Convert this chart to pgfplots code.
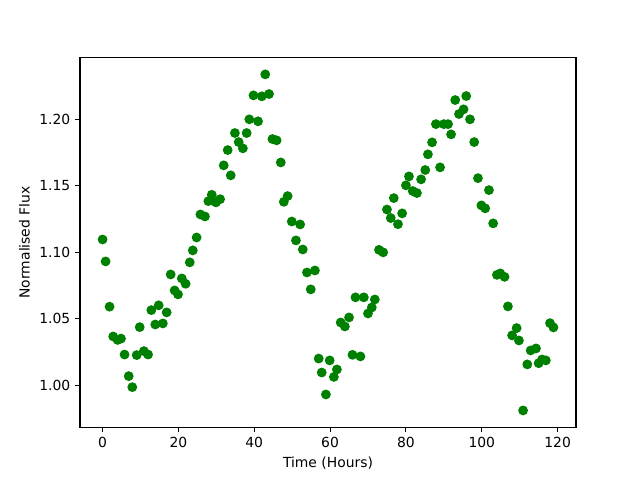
\documentclass[border=0pt]{standalone}
\usepackage{pgfplots}
\pgfplotsset{compat=1.18}
\usepackage{fontspec}
\setmainfont{DejaVu Sans}
\definecolor{mplgreen}{HTML}{008000}
\begin{document}
\begin{tikzpicture}
\useasboundingbox (-57.6pt,-38.016pt) rectangle (403.2pt,307.584pt);
\begin{axis}[
  at={(0,0)}, anchor=south west,
  scale only axis, width=357.12pt, height=266.112pt,
  xmin=-5.95, xmax=124.85, ymin=0.9684, ymax=1.2462,
  xtick={0,20,40,60,80,100,120},
  ytick={1.00,1.05,1.10,1.15,1.20},
  yticklabel style={/pgf/number format/.cd, fixed, fixed zerofill, precision=2},
  /pgf/number format/assume math mode=true,
  tick align=outside, tick pos=left,
  major tick length=3.5pt,
  tick style={black, line width=0.8pt},
  axis line style={line width=0.8pt},
  ticklabel style={font=\fontsize{10}{12}\selectfont},
  label style={font=\fontsize{10}{12}\selectfont},
  xlabel={Time (Hours)}, ylabel={Normalised Flux},
]
\addplot[only marks, mark=*, mark size=3pt, color=mplgreen, mark options={draw=mplgreen, fill=mplgreen, line width=1pt}] coordinates {
(0.0,1.1095) (0.8,1.093) (1.85,1.059) (2.8,1.0366) (3.96,1.034) (4.86,1.035)
(5.8,1.023) (6.9,1.0068) (7.84,0.9985) (9.0,1.0226) (9.8,1.0436) (10.9,1.0256)
(12.0,1.023) (12.86,1.0564) (13.9,1.0456) (14.8,1.060) (15.9,1.0464) (16.9,1.0547)
(17.96,1.0832) (19.0,1.0712) (19.9,1.0682) (20.9,1.0802) (21.9,1.0762) (23.0,1.0923)
(23.8,1.1013) (24.8,1.111) (25.8,1.1283) (27.0,1.1268) (27.9,1.1383) (28.8,1.1431)
(29.9,1.1374) (31.0,1.1398) (31.95,1.1652) (33.0,1.1767) (33.8,1.1577) (34.9,1.1895)
(35.9,1.1827) (37.0,1.178) (38.0,1.1895) (38.7,1.1998) (39.8,1.2178) (41.0,1.1983)
(42.0,1.2171) (42.9,1.2336) (43.9,1.2188) (44.8,1.185) (45.9,1.184) (47.0,1.1674)
(47.8,1.1378) (48.8,1.1421) (49.9,1.123) (51.0,1.1088) (52.1,1.1208) (52.8,1.102)
(53.9,1.0847) (54.9,1.072) (56.0,1.0862) (57.0,1.020) (57.8,1.0095) (58.9,0.993)
(59.9,1.0186) (61.0,1.0062) (61.8,1.0118) (62.8,1.0471) (63.9,1.0441) (65.0,1.0509)
(65.9,1.0228) (66.7,1.066) (68.0,1.0216) (68.9,1.066) (70.0,1.0539) (71.0,1.0584)
(71.8,1.0644) (72.9,1.1017) (74.0,1.0998) (75.0,1.132) (76.0,1.1256) (76.8,1.1406)
(77.9,1.121) (79.0,1.1291) (80.0,1.1502) (80.8,1.1569) (81.8,1.1459) (82.9,1.1444)
(84.0,1.1547) (85.1,1.1617) (85.8,1.1735) (86.9,1.1825) (87.9,1.1962) (89.0,1.1637)
(90.0,1.1962) (91.1,1.1962) (91.9,1.1885) (93.0,1.2143) (94.0,1.2038) (95.2,1.2073)
(95.9,1.2173) (96.9,1.1998) (98.0,1.1827) (99.0,1.1556) (99.9,1.1351) (100.9,1.1329)
(101.9,1.1466) (103.0,1.1216) (104.0,1.0829) (104.9,1.084) (106.0,1.0814) (106.9,1.0592)
(108.0,1.0374) (109.2,1.0429) (109.8,1.0336) (110.9,0.981) (112.0,1.0156) (112.9,1.0261)
(114.3,1.0276) (115.0,1.0165) (115.9,1.0193) (116.9,1.0186) (118.0,1.0466) (118.9,1.0434)
};
\end{axis}
\end{tikzpicture}
\end{document}
